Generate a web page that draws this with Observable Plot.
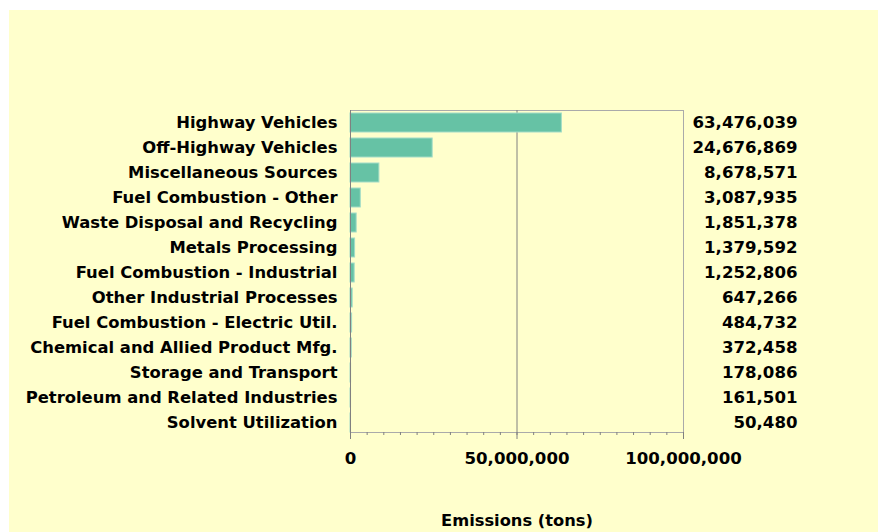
<!DOCTYPE html>
<html>
<head>
<meta charset="utf-8">
<script src="https://cdn.jsdelivr.net/npm/d3@7"></script>
<script src="https://cdn.jsdelivr.net/npm/@observablehq/plot@0.6"></script>
<style>
  html, body { margin: 0; padding: 0; background: #ffffff; }
  #panel { position: absolute; left: 9px; top: 10px; width: 869px; height: 522px; background: #FFFFCC; overflow: hidden; }
  #panel svg { display: block; }
</style>
</head>
<body>
<div id="panel"></div>
<script>
const categories = [
  "Highway Vehicles",
  "Off-Highway Vehicles",
  "Miscellaneous Sources",
  "Fuel Combustion - Other",
  "Waste Disposal and Recycling",
  "Metals Processing",
  "Fuel Combustion - Industrial",
  "Other Industrial Processes",
  "Fuel Combustion - Electric Util.",
  "Chemical and Allied Product Mfg.",
  "Storage and Transport",
  "Petroleum and Related Industries",
  "Solvent Utilization"
];
const emissions = [63476039, 24676869, 8678571, 3087935, 1851378, 1379592, 1252806, 647266, 484732, 372458, 178086, 161501, 50480];
const majorTicks = [0, 50000000, 100000000];
const minorStep = 5000000;
const gridValues = [50000000];
const xLabel = "Emissions (tons)";

const data = categories.map((c, i) => ({category: c, value: emissions[i]}));
const minorTicks = d3.range(0, 100000000 + 1, minorStep);
const fmt = d3.format(",");
const font = "DejaVu Sans";

const chart = Plot.plot({
  width: 869,
  height: 522,
  marginLeft: 341,
  marginRight: 195,
  marginTop: 100,
  marginBottom: 100,
  style: {background: "transparent", fontFamily: font, color: "#000"},
  x: {domain: [0, 100000000], label: null},
  y: {domain: categories, range: [99.5, 424.5], paddingInner: 0.26, paddingOuter: 0, label: null},
  marks: [
    Plot.frame({stroke: "#aaaaaa"}),
    Plot.ruleX(gridValues, {stroke: "#808080", strokeWidth: 1}),
    Plot.barX(data, {x: "value", y: "category", fill: "#66C2A5", stroke: "#a3dcc7", strokeWidth: 1}),
    Plot.ruleX([0], {stroke: "#808080"}),
    Plot.ruleY([0], {frameAnchor: "bottom", stroke: "#808080"}),
    Plot.axisX(minorTicks, {anchor: "bottom", tickSize: 3, tickFormat: () => "", stroke: "#808080", label: null}),
    Plot.axisX(majorTicks, {anchor: "bottom", tickSize: 7, tickPadding: 13, tickFormat: fmt, stroke: "#808080", fill: "#000", fontSize: 16.6, fontWeight: "bold", label: null}),
    Plot.axisY({anchor: "left", tickSize: 0, tickPadding: 13, fontSize: 16.4, fontWeight: "bold", fill: "#000", label: null}),
    Plot.text(data, {y: "category", text: d => fmt(d.value), frameAnchor: "right", dx: 114, textAnchor: "end", fontSize: 16.6, fontWeight: "bold", fill: "#000"}),
    Plot.text([xLabel], {frameAnchor: "bottom", dy: 93, lineAnchor: "bottom", fontSize: 16.3, fontWeight: "bold", fill: "#000"})
  ]
});
document.getElementById("panel").appendChild(chart);
</script>
</body>
</html>
